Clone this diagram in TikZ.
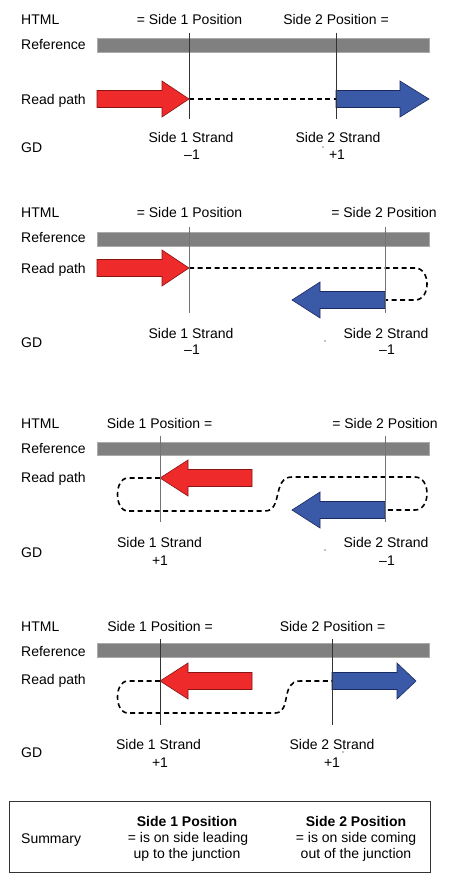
\documentclass[tikz,border=0pt]{standalone}
\usepackage{fontspec}
\setmainfont{Liberation Sans}
\definecolor{arrRed}{HTML}{EE2A2A}
\definecolor{arrRedEdge}{HTML}{8A1414}
\definecolor{arrBlue}{HTML}{3A5AA8}
\definecolor{arrBlueEdge}{HTML}{1A2A60}
\definecolor{barGray}{HTML}{808080}
\definecolor{barEdge}{HTML}{ABABAB}
\newcommand{\labfont}{\fontsize{14}{16}\selectfont}
\begin{document}
\begin{tikzpicture}[x=1pt,y=-1pt,
  lbl/.style={font=\labfont, inner sep=0pt, anchor=base west},
  txt/.style={font=\labfont, inner sep=0pt, anchor=base},
  refbar/.style={fill=barGray, draw=barEdge, line width=0.8pt},
  redarrow/.style={fill=arrRed, draw=arrRedEdge, line width=0.6pt},
  bluearrow/.style={fill=arrBlue, draw=arrBlueEdge, line width=0.6pt},
  readpath/.style={dash pattern=on 5pt off 3.5pt, line width=1.6pt},
  junction/.style={line width=1pt, draw=black!80},
  greyjunction/.style={line width=1pt, draw=black!55},
  speck/.style={fill=black, draw=none},
  sumbox/.style={draw=black!80, line width=1pt}]
\useasboundingbox (0,0) rectangle (450,885);
\fill[white] (0,0) rectangle (450,885);

% ================= Panel 1 =================
\node[lbl] (html1) at (21,25) {HTML};
\node[lbl] (ref1) at (21,50) {Reference};
\node[lbl] (rp1) at (21,105) {Read path};
\node[lbl] (gd1) at (21,153) {GD};
\node[txt] (p1a) at (189.5,25) {= Side 1 Position};
\node[txt] (p1b) at (336,25) {Side 2 Position =};
\node[txt] (s1a) at (191,143) {Side 1 Strand};
\node[txt] (s1an) at (192,160) {–1};
\node[txt] (s1b) at (338,143) {Side 2 Strand};
\node[txt] (s1bn) at (337,160) {+1};
\fill[speck] (323,147) circle (0.7);
\draw[refbar] (97,38) rectangle (429,52);
\coordinate (j1a) at (189,99);
\coordinate (j1b) at (336,99);
\draw[readpath] (j1a) -- (j1b);
\draw[redarrow] (97,90.5) -- (162,90.5) -- (162,81) -- (j1a) -- (162,117) -- (162,107.5) -- (97,107.5) -- cycle;
\draw[bluearrow] (j1b) ++(0,-8.5) -- (400,90.5) -- (400,81) -- (429,99) -- (400,117) -- (400,107.5) -- (336,107.5) -- cycle;
\draw[junction] (189,33) -- (189,119);
\draw[junction] (336,33) -- (336,119);

% ================= Panel 2 =================
\node[lbl] (html2) at (21,218) {HTML};
\node[lbl] (ref2) at (21,243) {Reference};
\node[lbl] (rp2) at (21,273) {Read path};
\node[lbl] (gd2) at (21,347) {GD};
\node[txt] (p2a) at (189.5,218) {= Side 1 Position};
\node[txt] (p2b) at (384,218) {= Side 2 Position};
\node[txt] (s2a) at (191,338) {Side 1 Strand};
\node[txt] (s2an) at (192,354) {–1};
\node[txt] (s2b) at (386,338) {Side 2 Strand};
\node[txt] (s2bn) at (387,354) {–1};
\fill[speck] (325,341) circle (0.7);
\draw[refbar] (97,232) rectangle (429,246);
\coordinate (j2a) at (189,268);
\coordinate (j2b) at (385,300);
\draw[readpath] (j2a) -- (415,268) .. controls (431,268) and (431,300) .. (415,300) -- (j2b);
\draw[redarrow] (97,259.5) -- (162,259.5) -- (162,250) -- (j2a) -- (162,286) -- (162,276.5) -- (97,276.5) -- cycle;
\draw[bluearrow] (385,291.5) -- (320,291.5) -- (320,282) -- (292,300) -- (320,318) -- (320,308.5) -- (385,308.5) -- cycle;
\draw[greyjunction] (189,227) -- (189,313);
\draw[greyjunction] (385,227) -- (385,313);

% ================= Panel 3 =================
\node[lbl] (html3) at (21,428) {HTML};
\node[lbl] (ref3) at (21,453) {Reference};
\node[lbl] (rp3) at (21,482) {Read path};
\node[lbl] (gd3) at (21,557) {GD};
\node[txt] (p3a) at (159.5,428) {Side 1 Position =};
\node[txt] (p3b) at (385,428) {= Side 2 Position};
\node[txt] (s3a) at (159.5,547) {Side 1 Strand};
\node[txt] (s3an) at (160,565) {+1};
\node[txt] (s3b) at (386,547) {Side 2 Strand};
\node[txt] (s3bn) at (387,565) {–1};
\fill[speck] (325,550) circle (0.7);
\draw[refbar] (97,442) rectangle (429,455);
\coordinate (j3a) at (160,478);
\coordinate (j3b) at (385,510);
\draw[readpath] (j3a) -- (128,478) .. controls (114,478) and (114,511) .. (128,511)
  -- (265,511) .. controls (283,511) and (272,477) .. (292,477)
  -- (415,477) .. controls (431,477) and (431,510) .. (415,510) -- (j3b);
\draw[redarrow] (252,469.5) -- (188,469.5) -- (188,460) -- (j3a) -- (188,496) -- (188,486.5) -- (252,486.5) -- cycle;
\draw[bluearrow] (385,501.5) -- (320,501.5) -- (320,492) -- (292,510) -- (320,528) -- (320,518.5) -- (385,518.5) -- cycle;
\draw[greyjunction] (160,436) -- (160,522);
\draw[greyjunction] (385,436) -- (385,522);

% ================= Panel 4 =================
\node[lbl] (html4) at (21,631) {HTML};
\node[lbl] (ref4) at (21,656) {Reference};
\node[lbl] (rp4) at (21,684) {Read path};
\node[lbl] (gd4) at (21,757) {GD};
\node[txt] (p4a) at (160,631) {Side 1 Position =};
\node[txt] (p4b) at (332.5,631) {Side 2 Position =};
\node[txt] (s4a) at (158.5,749) {Side 1 Strand};
\node[txt] (s4an) at (160,767) {+1};
\node[txt] (s4b) at (332,749) {Side 2 Strand};
\node[txt] (s4bn) at (332,767) {+1};
\fill[speck] (343,752) circle (0.7);
\draw[refbar] (97,643) rectangle (429,657);
\coordinate (j4a) at (160,681);
\coordinate (j4b) at (332,681);
\draw[readpath] (j4a) -- (128,681) .. controls (114,681) and (114,713) .. (128,713)
  -- (275,713) .. controls (292,713) and (280,681) .. (300,681) -- (j4b);
\draw[redarrow] (252,672.5) -- (188,672.5) -- (188,663) -- (j4a) -- (188,699) -- (188,689.5) -- (252,689.5) -- cycle;
\draw[bluearrow] (332,672.5) -- (397,672.5) -- (397,663) -- (416,681) -- (397,699) -- (397,689.5) -- (332,689.5) -- cycle;
\draw[junction] (160,639) -- (160,725);
\draw[junction] (332,639) -- (332,725);

% ================= Summary =================
\draw[sumbox] (9,801) rectangle (430,872);
\node[lbl] (sum) at (21,843) {Summary};
\node[txt] (sa1) at (187,826) {\bfseries Side 1 Position};
\node[txt] (sa2) at (188,842) {= is on side leading};
\node[txt] (sa3) at (187,858) {up to the junction};
\node[txt] (sb1) at (356,826) {\bfseries Side 2 Position};
\node[txt] (sb2) at (356,842) {= is on side coming};
\node[txt] (sb3) at (356,858) {out of the junction};
\end{tikzpicture}
\end{document}
